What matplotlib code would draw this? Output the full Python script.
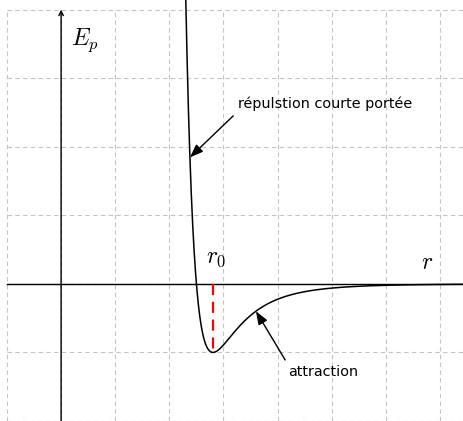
import numpy as np
import matplotlib
matplotlib.use("Agg")
import matplotlib.pyplot as plt

plt.rcParams['mathtext.fontset'] = 'cm'

# Values (grid units)
r_zero_crossing = 2.5      # where Ep crosses 0
well_depth = 1.0           # Ep(r0) = -well_depth
r_range = [2.28, 7.5]
grid_x = [-1, 7.5]
grid_y = [-2, 4]
label_rep = "répulstion courte portée"
label_att = "attraction"

fig = plt.figure(figsize=(4.64, 4.21), dpi=100)
ax = fig.add_axes([0, 0, 1, 1])
ax.set_xlim(-1.129, 7.444)
ax.set_ylim(-2.0, 4.14)
ax.axis('off')

# grid
gcol = '#c4c4c4'
for gx in np.arange(grid_x[0], 7.01, 1):
    ax.plot([gx, gx], grid_y, color=gcol, lw=0.8, ls=(0, (4, 3)), zorder=1)
for gy in np.arange(grid_y[0], grid_y[1] + 0.01, 1):
    ax.plot(grid_x, [gy, gy], color=gcol, lw=0.8, ls=(0, (4, 3)), zorder=1)

# axes
ax.plot(grid_x, [0, 0], color='black', lw=1.0, zorder=2)
ax.annotate('', xy=(0, 4.0), xytext=(0, -2.0),
            arrowprops=dict(arrowstyle='->', lw=1.0, color='black',
                            shrinkA=0, shrinkB=0, mutation_scale=8), zorder=2)

# Lennard-Jones curve
sigma = r_zero_crossing
r = np.linspace(r_range[0], r_range[1], 800)
Ep = 4 * well_depth * ((sigma / r) ** 12 - (sigma / r) ** 6)
ax.plot(r, Ep, color='black', lw=1.1, zorder=3)

r0 = 2 ** (1 / 6) * sigma
ax.plot([r0, r0], [0, -well_depth], color='red', lw=1.6, ls=(0, (5, 3)), zorder=4)

# labels
ax.text(0.44, 3.56, r'$E_p$', fontsize=17, ha='center', va='center')
ax.text(2.87, 0.39, r'$r_0$', fontsize=17, ha='center', va='center')
ax.text(6.77, 0.32, r'$r$', fontsize=17, ha='center', va='center')

# annotations
def lj(x):
    return 4 * well_depth * ((sigma / x) ** 12 - (sigma / x) ** 6)

astyle = '-|>,head_width=0.3,head_length=0.8'
ax.annotate('', xy=(2.38, lj(2.38)), xytext=(3.18, 2.45),
            arrowprops=dict(arrowstyle=astyle, lw=1.0, color='black',
                            shrinkA=0, shrinkB=0, mutation_scale=10))
ax.text(3.27, 2.63, label_rep, fontsize=10.4, ha='left', va='center')

ax.annotate('', xy=(3.6, lj(3.6)), xytext=(4.14, -1.11),
            arrowprops=dict(arrowstyle=astyle, lw=1.0, color='black',
                            shrinkA=0, shrinkB=0, mutation_scale=10))
ax.text(4.19, -1.28, label_att, fontsize=10.4, ha='left', va='center')

fig.savefig('out.png', dpi=100)
